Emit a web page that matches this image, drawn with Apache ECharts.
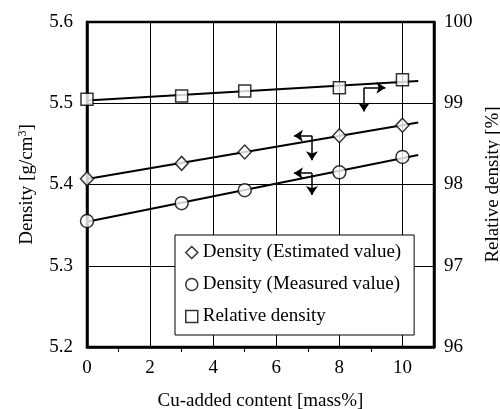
<!DOCTYPE html>
<html>
<head>
<meta charset="utf-8">
<script src="https://cdn.jsdelivr.net/npm/echarts@6/dist/echarts.min.js"></script>
<style>
  html, body { margin: 0; padding: 0; background: #fff; }
  #chart { width: 500px; height: 409px; }
</style>
</head>
<body>
<div id="chart"></div>
<script>
// Cu-added content [mass%]
var cuContent = [0, 3, 5, 8, 10];
// Density (Estimated value) [g/cm3]
var densityEstimated = [5.407, 5.426, 5.440, 5.460, 5.473];
// Density (Measured value) [g/cm3]
var densityMeasured = [5.355, 5.377, 5.393, 5.415, 5.434];
// Relative density [%]
var relativeDensity = [99.05, 99.09, 99.15, 99.19, 99.29];

var legendNames = ['Density (Estimated value)', 'Density (Measured value)', 'Relative density'];
var fitRange = [0, 10.5];

// little arrows showing which axis each line belongs to: [corner, tip1, tip2]
var arrowSquare = [[8.78, 5.519], [8.78, 5.490], [9.46, 5.519]];
var arrowDiamond = [[7.13, 5.460], [6.56, 5.460], [7.13, 5.430]];
var arrowCircle = [[7.13, 5.414], [6.56, 5.414], [7.13, 5.387]];

var font = 'Liberation Serif, Times New Roman, serif';

function pairs(xs, ys) {
    return xs.map(function (x, i) { return [x, ys[i]]; });
}

// least squares line through the points, drawn over fitRange
function fitLine(xs, ys) {
    var n = xs.length, sx = 0, sy = 0, sxx = 0, sxy = 0;
    for (var i = 0; i < n; i++) {
        sx += xs[i]; sy += ys[i]; sxx += xs[i] * xs[i]; sxy += xs[i] * ys[i];
    }
    var b = (n * sxy - sx * sy) / (n * sxx - sx * sx);
    var a = (sy - b * sx) / n;
    return fitRange.map(function (x) { return [x, a + b * x]; });
}

function arrowSegments(a) {
    return [{coords: [a[0], a[1]]}, {coords: [a[0], a[2]]}];
}

var markerStyle = {color: '#fff', borderColor: '#000', borderWidth: 1.5};

var chart = echarts.init(document.getElementById('chart'));

var option = {
    animation: false,
    backgroundColor: '#fff',
    grid: {
        left: 87, right: 66, top: 22, bottom: 62,
        outerBoundsMode: 'none',
        show: true, borderColor: '#000', borderWidth: 2.5
    },
    legend: {
        orient: 'vertical',
        left: 175, top: 235,
        padding: [8, 13, 9, 10],
        itemWidth: 12, itemHeight: 12, itemGap: 13,
        backgroundColor: '#fff', borderColor: '#000', borderWidth: 1,
        textStyle: {fontFamily: font, fontSize: 19, color: '#000'},
        data: [
            {name: legendNames[0], icon: 'diamond', itemStyle: markerStyle},
            {name: legendNames[1], icon: 'circle', itemStyle: markerStyle},
            {name: legendNames[2], icon: 'rect', itemStyle: markerStyle}
        ]
    },
    xAxis: {
        type: 'value', min: 0, max: 11, interval: 2,
        name: 'Cu-added content [mass%]',
        nameLocation: 'middle', nameGap: 45,
        nameTextStyle: {fontFamily: font, fontSize: 19, color: '#000'},
        axisLine: {lineStyle: {color: '#000', width: 2.5}},
        axisTick: {show: false},
        minorTick: {show: true, splitNumber: 2, length: 5, lineStyle: {color: '#000'}},
        axisLabel: {fontFamily: font, fontSize: 19, color: '#000', margin: 12, showMaxLabel: false},
        splitLine: {show: true, lineStyle: {color: '#000', width: 1}}
    },
    yAxis: [{
        type: 'value', min: 5.2, max: 5.6, interval: 0.1,
        name: '{a|Density [g/cm}{s|3}{a|]}',
        nameLocation: 'middle', nameGap: 50, nameRotate: 90,
        nameTextStyle: {
            rich: {
                a: {fontFamily: font, fontSize: 19, color: '#000'},
                s: {fontFamily: font, fontSize: 12, color: '#000', verticalAlign: 'top', padding: [0, 0, 8, 0]}
            }
        },
        axisLine: {show: true, lineStyle: {color: '#000', width: 2.5}},
        axisTick: {show: false},
        axisLabel: {fontFamily: font, fontSize: 19, color: '#000', margin: 14,
            formatter: function (v) { return v.toFixed(1); }},
        splitLine: {show: true, lineStyle: {color: '#000', width: 1}}
    }, {
        type: 'value', min: 96, max: 100, interval: 1,
        position: 'right',
        name: 'Relative density [%]',
        nameLocation: 'middle', nameGap: 47, nameRotate: 90,
        nameTextStyle: {fontFamily: font, fontSize: 19, color: '#000'},
        axisLine: {show: true, lineStyle: {color: '#000', width: 2.5}},
        axisTick: {show: false},
        axisLabel: {fontFamily: font, fontSize: 19, color: '#000', margin: 10},
        splitLine: {show: false}
    }],
    series: [
        // fitted lines
        {type: 'line', data: fitLine(cuContent, densityEstimated), symbol: 'none',
            lineStyle: {color: '#000', width: 2}, z: 2},
        {type: 'line', data: fitLine(cuContent, densityMeasured), symbol: 'none',
            lineStyle: {color: '#000', width: 2}, z: 2},
        {type: 'line', yAxisIndex: 1, data: fitLine(cuContent, relativeDensity), symbol: 'none',
            lineStyle: {color: '#000', width: 2}, z: 2},
        // markers
        {name: legendNames[0], type: 'scatter', data: pairs(cuContent, densityEstimated),
            symbol: 'diamond', symbolSize: [13, 14], itemStyle: markerStyle, z: 5},
        {name: legendNames[1], type: 'scatter', data: pairs(cuContent, densityMeasured),
            symbol: 'circle', symbolSize: 13, itemStyle: markerStyle, z: 5},
        {name: legendNames[2], type: 'scatter', yAxisIndex: 1, data: pairs(cuContent, relativeDensity),
            symbol: 'rect', symbolSize: 12, itemStyle: markerStyle, z: 5},
        // axis pointer arrows
        {type: 'lines', coordinateSystem: 'cartesian2d',
            data: arrowSegments(arrowSquare).concat(arrowSegments(arrowDiamond), arrowSegments(arrowCircle)),
            symbol: ['none', 'arrow'], symbolSize: 9,
            lineStyle: {color: '#000', width: 1.5, opacity: 1, curveness: 0}, z: 4}
    ]
};

chart.setOption(option);
</script>
</body>
</html>
